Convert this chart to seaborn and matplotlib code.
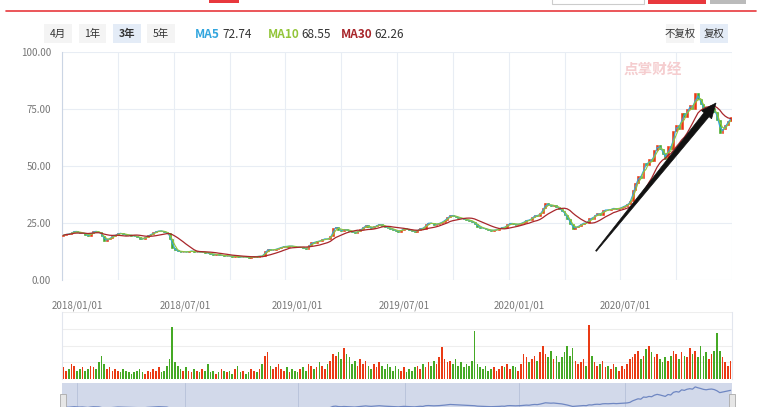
import numpy as np
import pandas as pd
import matplotlib
matplotlib.use("Agg")
import matplotlib.pyplot as plt
import seaborn as sns
from matplotlib.patches import Rectangle, Polygon
from matplotlib.transforms import IdentityTransform

# ---------------- data (each candle = 3 trading days) ----------------
close = [
    19.6, 20.3, 20.1, 20.9, 21.6, 21.0, 20.5, 20.8, 19.9, 19.2,
    20.6, 21.5, 21.2, 21.0, 19.3, 17.2, 17.8, 18.6, 19.2, 19.8,
    20.6, 20.4, 20.0, 19.8, 19.7, 19.5, 19.2, 18.9, 18.2, 17.9,
    18.8, 19.6, 20.1, 20.9, 21.3, 21.7, 21.4, 21.0, 20.6, 18.2,
    14.2, 13.0, 12.6, 12.3, 12.5, 12.2, 12.6, 12.8, 12.3, 12.5,
    12.1, 12.4, 12.0, 11.8, 11.5, 11.0, 11.3, 10.8, 10.9, 10.5,
    10.7, 10.4, 10.2, 10.6, 10.2, 10.0, 10.3, 9.9, 9.8, 10.1,
    10.4, 10.2, 10.6, 10.5, 12.8, 13.5, 13.0, 13.3, 13.6, 14.1,
    14.4, 14.9, 14.6, 15.1, 14.7, 14.5, 14.3, 14.4, 13.9, 13.7,
    15.2, 16.6, 16.3, 17.3, 17.0, 17.9, 18.2, 17.8, 19.2, 22.6,
    23.4, 22.0, 21.6, 22.3, 21.9, 21.5, 21.1, 20.6, 21.4, 22.2,
    23.3, 24.1, 23.2, 22.7, 23.5, 24.0, 24.6, 23.8, 23.3, 22.9,
    22.5, 22.0, 21.6, 21.2, 22.1, 22.7, 22.2, 21.8, 21.5, 21.2,
    22.0, 22.9, 22.5, 24.6, 25.2, 24.8, 24.3, 24.6, 25.0, 25.6,
    26.5, 27.6, 28.5, 28.1, 27.6, 27.3, 27.0, 26.6, 26.4, 26.0,
    25.6, 24.6, 23.4, 23.0, 22.6, 22.3, 21.9, 21.7, 21.9, 22.1,
    22.6, 23.3, 23.0, 24.6, 25.0, 24.6, 24.3, 24.6, 25.0, 25.6,
    26.5, 26.1, 27.6, 28.5, 28.0, 29.5, 31.5, 33.6, 33.0, 32.4,
    32.9, 32.0, 31.0, 30.2, 28.6, 26.8, 24.5, 22.5, 23.1, 23.8,
    24.6, 25.2, 24.8, 27.3, 26.9, 28.6, 29.2, 28.7, 30.5, 30.9,
    30.6, 31.2, 31.6, 31.0, 31.5, 32.1, 32.6, 33.2, 34.8, 39.5,
    42.5, 45.8, 44.6, 51.2, 50.3, 53.0, 52.1, 56.8, 59.3, 57.6,
    55.2, 53.1, 58.9, 57.4, 65.5, 67.8, 66.2, 73.2, 71.5, 75.0,
    76.6, 75.2, 82.1, 79.4, 77.2, 74.6, 73.3, 74.8, 75.6, 73.9,
    70.1, 64.6, 66.3, 68.2, 69.8, 71.6,
]
first_open = 19.4

volume = [
    0.7, 0.5, 0.6, 0.9, 0.8, 0.5, 0.6, 0.7, 0.5, 0.6,
    0.8, 0.7, 0.6, 1.0, 1.35, 0.9, 0.6, 0.7, 0.5, 0.6,
    0.5, 0.4, 0.6, 0.5, 0.4, 0.3, 0.4, 0.5, 0.6, 0.4,
    0.3, 0.5, 0.4, 0.6, 0.5, 0.7, 0.4, 0.5, 0.8, 1.2,
    3.1, 1.0, 0.8, 0.6, 0.5, 0.7, 0.5, 0.4, 0.6, 0.5,
    0.4, 0.6, 0.5, 0.9, 0.4, 0.5, 0.3, 0.4, 0.6, 0.5,
    0.4, 0.5, 0.3, 0.6, 0.8, 0.4, 0.5, 0.3, 0.4, 0.6,
    0.5, 0.4, 0.6, 0.9, 1.4, 1.6, 0.8, 0.6, 0.7, 0.9,
    0.6, 0.5, 0.7, 0.4, 0.6, 0.5, 0.4, 0.6, 0.7, 0.5,
    0.9, 0.8, 0.6, 0.7, 1.0, 0.8, 0.6, 0.9, 1.1, 1.5,
    1.4, 1.6, 1.2, 1.85, 1.5, 1.3, 0.9, 1.1, 0.8, 1.2,
    0.9, 1.1, 0.8, 0.6, 0.9, 0.7, 1.0, 0.8, 0.6, 0.9,
    0.7, 0.5, 0.8, 0.6, 0.5, 0.7, 0.4, 0.6, 0.5, 0.7,
    0.8, 0.6, 0.9, 0.7, 1.0, 0.8, 1.1, 0.9, 1.3, 1.9,
    1.2, 1.0, 1.1, 0.9, 1.2, 0.8, 1.0, 0.7, 0.9, 0.8,
    1.1, 2.85, 0.9, 0.7, 0.6, 0.8, 0.5, 0.6, 0.7, 0.5,
    0.6, 0.8, 0.7, 0.9, 0.6, 0.8, 0.7, 0.5, 0.9, 1.5,
    1.3, 1.0, 1.2, 1.4, 1.1, 1.6, 2.0, 1.5, 1.3, 1.7,
    1.2, 1.4, 1.0, 1.3, 1.6, 1.95, 1.4, 1.85, 1.1, 0.9,
    1.0, 1.2, 0.8, 3.2, 1.35, 1.0, 0.8, 0.9, 1.1, 0.7,
    0.8, 0.6, 0.9, 0.7, 0.5, 0.8, 0.6, 0.9, 1.2, 1.3,
    1.5, 1.7, 1.2, 1.4, 1.8, 1.95, 1.6, 1.3, 1.5, 1.2,
    1.0, 1.3, 1.1, 1.4, 1.7, 1.5, 1.2, 1.6, 1.4, 1.3,
    1.85, 1.5, 1.7, 1.3, 2.0, 1.4, 1.6, 1.2, 1.5, 1.7,
    2.75, 1.65, 1.3, 1.0, 0.8, 1.1,
]

# Chinese market holidays (trading calendar)
holidays = [
    "2018-01-01", "2018-02-15", "2018-02-16", "2018-02-19", "2018-02-20", "2018-02-21",
    "2018-04-05", "2018-04-06", "2018-04-30", "2018-05-01", "2018-06-18", "2018-09-24",
    "2018-10-01", "2018-10-02", "2018-10-03", "2018-10-04", "2018-10-05", "2018-12-31",
    "2019-01-01", "2019-02-04", "2019-02-05", "2019-02-06", "2019-02-07", "2019-02-08",
    "2019-04-05", "2019-05-01", "2019-05-02", "2019-05-03", "2019-06-07", "2019-09-13",
    "2019-10-01", "2019-10-02", "2019-10-03", "2019-10-04", "2019-10-07",
    "2020-01-01", "2020-01-24", "2020-01-27", "2020-01-28", "2020-01-29", "2020-01-30",
    "2020-01-31", "2020-04-06", "2020-05-01", "2020-05-04", "2020-05-05", "2020-06-25",
    "2020-06-26", "2020-10-01", "2020-10-02", "2020-10-05", "2020-10-06", "2020-10-07",
    "2020-10-08",
]
start_date = "2017-12-08"
days_per_candle = 3
tick_dates = ["2018-01-01", "2018-07-01", "2019-01-01", "2019-07-01", "2020-01-01", "2020-07-01"]
tick_labels = ["2018/01/01", "2018/07/01", "2019/01/01", "2019/07/01", "2020/01/01", "2020/07/01"]
y_ticks = [0, 25, 50, 75, 100]
ma_names = ["MA5", "MA10", "MA30"]
ma_windows = [2, 3, 10]          # in 3-day candles (~5, ~10, ~30 days)
ma_last = ["72.74", "68.55", "62.26"]
period_buttons = ["4月", "1年", "3年", "5年"]
adj_buttons = ["不复权", "复权"]

# ---------------- styling ----------------
RED = "#EA3A14"
GREEN = "#45A925"
MA_COLORS = ["#33A6DE", "#93C53A", "#A8262B"]
GRID = "#E8EDF4"
TXT = "#333333"

sns.set_theme(style="white")
plt.rcParams["font.family"] = ["Noto Sans CJK SC", "DejaVu Sans"]

W, H = 764, 407
fig = plt.figure(figsize=(W / 100, H / 100), dpi=100)
fig.patch.set_facecolor("white")


def frect(l, t, r, b):
    return [l / W, 1 - b / H, (r - l) / W, (b - t) / H]


def fbox(l, t, r, b, fc, ec="none", lw=0.0, z=0):
    fig.add_artist(Rectangle((l / W, 1 - b / H), (r - l) / W, (b - t) / H,
                             transform=fig.transFigure, facecolor=fc,
                             edgecolor=ec, linewidth=lw, zorder=z))


n = len(close)
xs = np.arange(n)
close_a = np.array(close)
opens = np.r_[first_open, close_a[:-1]]
up = close_a >= opens
colors = np.where(up, RED, GREEN)

df = pd.DataFrame({"x": xs, "close": close_a, "volume": volume})
for name, win in zip(ma_names, ma_windows):
    df[name] = df["close"].rolling(win, min_periods=1).mean()

cbd = pd.offsets.CustomBusinessDay(holidays=pd.to_datetime(holidays))
days = pd.date_range(start=start_date, periods=n * days_per_candle, freq=cbd)
tick_pos = [(days.searchsorted(pd.Timestamp(d)) - 1) / days_per_candle for d in tick_dates]

# ---------------- header ----------------
fig.add_artist(plt.Line2D([6 / W, 756 / W], [1 - 10.5 / H, 1 - 10.5 / H],
                          transform=fig.transFigure, color="#E8383D", lw=1.2))
fbox(209, 0, 239, 2.5, "#E8383D")
fbox(552, -2, 644, 3.5, "white", ec="#CCCCCC", lw=0.8)
fbox(648, -2, 706, 3.5, "#E8383D")
fbox(710, -2, 746, 3.5, "#BBBBBB")

btn_x = [(44, 72), (79, 106), (113, 141), (147, 175)]
for lab, (l, r) in zip(period_buttons, btn_x):
    active = lab == "3年"
    fbox(l, 24, r, 43, "#E4ECF7" if active else "#F4F4F4")
    fig.text((l + r) / 2 / W, 1 - 34 / H, lab, ha="center", va="center",
             fontsize=7.5, color=TXT, fontweight="bold" if active else "normal")

adj_x = [(666, 694), (700, 728)]
for lab, (l, r) in zip(adj_buttons, adj_x):
    active = lab == "复权"
    fbox(l, 24, r, 43, "#E4ECF7" if active else "#F4F4F4")
    fig.text((l + r) / 2 / W, 1 - 34 / H, lab, ha="center", va="center",
             fontsize=7.5, color=TXT)

# ---------------- main price axes ----------------
ax = fig.add_axes(frect(62, 52, 732, 280))
ax.set_facecolor("white")

ma_x = [195, 268, 341]
for name, val, col, xa in zip(ma_names, ma_last, MA_COLORS, ma_x):
    t = fig.text(xa / W, 1 - 34 / H, name, ha="left", va="center", fontsize=8.5,
                 color=col, fontweight="bold")
    ax.annotate(val, xy=(1, 0.5), xycoords=t, xytext=(1.5, 0),
                textcoords="offset points", ha="left", va="center",
                fontsize=8.5, color=TXT, annotation_clip=False)

ax.bar(xs, np.abs(close_a - opens), bottom=np.minimum(opens, close_a), width=0.7,
       color=colors, edgecolor=colors, linewidth=0.4, zorder=3)
for name, col, lw in zip(ma_names, MA_COLORS, [0.8, 0.8, 0.9]):
    sns.lineplot(data=df, x="x", y=name, ax=ax, color=col, lw=lw, zorder=4,
                 legend=False)
ax.set_xlim(-0.5, n - 0.5)
ax.set_ylim(0, 100)
ax.set_yticks(y_ticks)
ax.set_yticklabels([f"{v:.2f}" for v in y_ticks])
ax.set_xticks(tick_pos)
ax.set_xticklabels(tick_labels)
ax.set_xticks(np.linspace(-0.5, n - 0.5, 13), minor=True)
ax.tick_params(axis="y", length=0, pad=8, labelsize=7, labelcolor="#777777")
ax.tick_params(axis="x", which="both", length=0, pad=15, labelsize=7, labelcolor="#777777")
ax.grid(axis="y", color=GRID, lw=0.8)
ax.grid(axis="x", which="minor", color=GRID, lw=0.8)
ax.grid(axis="x", which="major", visible=False)
ax.set_xlabel("")
ax.set_ylabel("")
for s in ["top", "right", "bottom"]:
    ax.spines[s].set_visible(False)
ax.spines["left"].set_color("#CBD5E4")
ax.spines["left"].set_linewidth(0.8)

# watermark
fig.text(653 / W, 1 - 70 / H, "点掌财经", ha="center", va="center", fontsize=10.5,
         color="#F5CDCF", fontweight="bold", style="italic", zorder=1)

# arrow (pixel coordinates, y from bottom)
tail = np.array([596.0, H - 251.0])
tip = np.array([716.0, H - 103.0])
d = tip - tail
u = d / np.linalg.norm(d)
nrm = np.array([-u[1], u[0]])
base = tip - 15 * u
pts = [tail + 0.5 * nrm, base + 3.2 * nrm, base + 6.5 * nrm, tip,
       base - 6.5 * nrm, base - 3.2 * nrm, tail - 0.5 * nrm]
fig.add_artist(Polygon(pts, closed=True, transform=IdentityTransform(),
                       facecolor="#111111", edgecolor="#111111", lw=0.5, zorder=10))

# ---------------- volume axes ----------------
axv = fig.add_axes(frect(62, 312, 732, 379))
axv.bar(xs, volume, width=0.6, color=colors, linewidth=0, zorder=3)
axv.set_xlim(-0.5, n - 0.5)
axv.set_ylim(0, 4)
axv.set_yticks([1, 2, 3, 4])
axv.set_xticks([])
axv.tick_params(length=0, labelleft=False)
axv.grid(axis="y", color="#EEEEEE", lw=0.8)
for s in ["top", "bottom"]:
    axv.spines[s].set_visible(False)
for s in ["left", "right"]:
    axv.spines[s].set_color("#E2E6EE")
    axv.spines[s].set_linewidth(0.8)

# ---------------- data zoom slider ----------------
axs = fig.add_axes(frect(62, 383, 732, 410))
axs.set_facecolor("#D2D9EA")
for tp in tick_pos:
    axs.axvline(tp, color="#BAC4DB", lw=0.7)
sns.lineplot(data=df, x="x", y="close", ax=axs, color="#6F87C2", lw=0.9, legend=False)
axs.set_xlim(-0.5, n - 0.5)
axs.set_ylim(11.6, 94)
axs.set_xticks([])
axs.set_yticks([])
axs.set_xlabel("")
axs.set_ylabel("")
for s in axs.spines.values():
    s.set_visible(False)
fbox(59.5, 394, 65.5, 410, "#E6E6E6", ec="#AAAAAA", lw=0.6, z=5)
fbox(729, 394, 735, 410, "#E6E6E6", ec="#AAAAAA", lw=0.6, z=5)

fig.savefig("out.png", dpi=100)
